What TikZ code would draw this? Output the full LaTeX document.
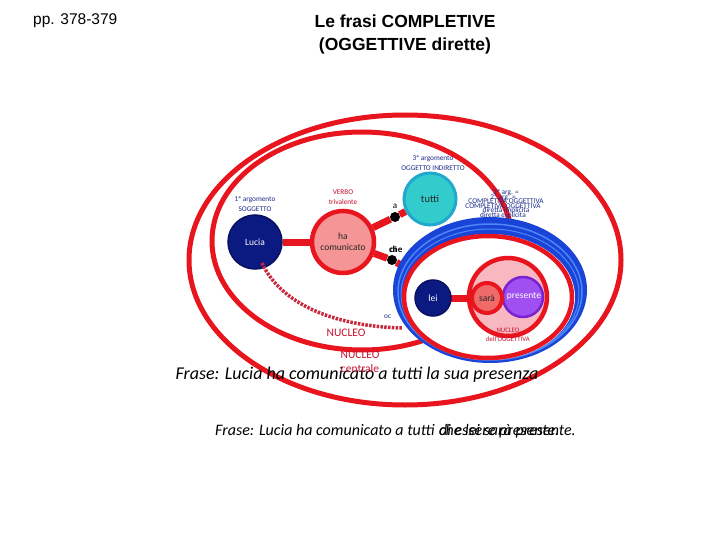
\documentclass[tikz,border=0pt]{standalone}
\usepackage{fontspec}
\usetikzlibrary{backgrounds}
\setmainfont{Carlito}
\newfontfamily\arialf{Liberation Sans}
\definecolor{nred}{HTML}{E8141E}
\definecolor{tred}{HTML}{C8102E}
\definecolor{dotred}{HTML}{C8283C}
\definecolor{navy}{HTML}{0B1A80}
\definecolor{navyb}{HTML}{0A1060}
\definecolor{salmon}{HTML}{F59595}
\definecolor{teal}{HTML}{33CCCC}
\definecolor{tealb}{HTML}{22A8CC}
\definecolor{pinkin}{HTML}{F8B8C2}
\definecolor{sarac}{HTML}{F06A6A}
\definecolor{purp}{HTML}{A050F0}
\definecolor{purpb}{HTML}{7A22D0}
\definecolor{bdark}{HTML}{1A44D8}
\definecolor{blight}{HTML}{4A88F8}
\definecolor{tblue}{HTML}{1A2A8A}
\tikzset{
  conn/.style={line width=7pt, nred},
  bigell/.style={line width=5pt, nred},
  ball/.style={circle, inner sep=0pt, align=center},
  dotnode/.style={circle, fill=black, minimum size=10pt, inner sep=0pt},
  lab/.style={font=\fontsize{7.3}{8}\selectfont, inner sep=0pt},
  bluelab/.style={lab, text=tblue},
  redlab/.style={lab, text=tred},
  frase/.style={font=\fontsize{16}{18}\selectfont\itshape, inner sep=0pt, text=black}
}
\begin{document}
\begin{tikzpicture}[x=1pt,y=-1pt]
\useasboundingbox (0,0) rectangle (720,540);
\begin{scope}[on background layer]
\fill[white] (0,0) rectangle (720,540);
\end{scope}

% title
\node[font=\arialf\fontsize{15.5}{17}\selectfont, anchor=west, inner sep=0pt] (pp) at (33,21) {pp. 378-379};
\node[font=\arialf\bfseries\fontsize{17.5}{23}\selectfont, align=center, inner sep=0pt] (title) at (405,34) {Le frasi COMPLETIVE\\(OGGETTIVE dirette)};

% big ellipses
\draw[bigell] (405,260) ellipse [x radius=216, y radius=145];
\draw[bigell] (362,241) ellipse [x radius=150, y radius=109];

% top-right overlapping texts
\node[bluelab, align=center] (argB) at (503,207) {2ª arg. =\\[1pt]COMPLETIVA OGGETTIVA\\[1pt]diretta esplicita};
\node[bluelab, align=center] (argA) at (506,202) {2ª arg. =\\[1pt]COMPLETIVA OGGETTIVA\\[1pt]diretta implicita};

% labels of the arguments
\node[bluelab, align=center] (l1) at (255,204) {1ª argomento\\[2pt]SOGGETTO};
\node[redlab, align=center] (lv) at (343,197) {VERBO\\[2pt]trivalente};
\node[bluelab, align=center] (l3) at (433,163) {3ª argomento\\[2pt]OGGETTO INDIRETTO};

% nodes
\node[ball, minimum size=54pt, fill=navy, draw=navyb, line width=1.5pt, text=white, font=\fontsize{9.5}{10}\selectfont] (lucia) at (255,242) {Lucia};
\node[ball, minimum size=62pt, fill=salmon, draw=nred, line width=4.5pt, text=black!85, font=\fontsize{9.5}{11}\selectfont] (ha) at (343,242) {ha\\comunicato};
\node[ball, minimum size=52pt, fill=teal, draw=tealb, line width=3pt, text=black!85, font=\fontsize{10.5}{11}\selectfont] (tutti) at (430,199) {tutti};
\node[dotnode] (adot) at (395,217) {};
\node[dotnode] (chedot) at (392,260) {};
\coordinate (cheend) at (414,272);

% connectors (behind the nodes)
\begin{scope}[on background layer]
\draw[conn] (lucia) -- (ha);
\draw[conn] (ha) -- (adot) -- (tutti);
\draw[conn] (ha) -- (chedot) -- (cheend);
\end{scope}

\node[lab, font=\fontsize{9}{9}\selectfont] (alab) at (395,206) {a};
\node[lab, font=\fontsize{9}{9}\selectfont\bfseries, anchor=west] (chelab) at (389,249) {che};
\node[lab, font=\fontsize{9}{9}\selectfont, anchor=west] (dilab) at (390,249) {di};

% dotted nucleus line from Lucia
\coordinate (dstart) at (262,263);
\coordinate (dend) at (402,328);
\draw[dotred, line width=3.5pt, dash pattern=on 2.5pt off 1.3pt] (dstart) .. controls (280,302) and (330,326) .. (dend);
\node[bluelab, anchor=west] (oc) at (384,317) {oc};

% blue ellipse (the objective clause)
\fill[bdark] (490,290) ellipse [x radius=97, y radius=73];
\draw[blight, line width=1.5pt] (490,292) ellipse [x radius=92, y radius=68];
\draw[blight, line width=1pt] (490,294) ellipse [x radius=89, y radius=65];
\fill[white] (489,297) ellipse [x radius=86, y radius=63];
\draw[nred, line width=4.5pt] (488,297) ellipse [x radius=84, y radius=61];

\node[ball, minimum size=78pt, fill=pinkin, draw=nred, line width=4.5pt] (nuc) at (508,297) {};
\draw[conn] (433,298) -- (487,298);
\node[ball, minimum size=36pt, fill=navy, draw=navyb, line width=1.5pt, text=white, font=\fontsize{9.5}{10}\selectfont] (lei) at (433,298) {lei};
\node[ball, minimum size=40pt, fill=purp, draw=purpb, line width=2.5pt] (pres) at (523,297) {};
\node[ball, minimum size=30pt, fill=sarac, draw=nred, line width=4pt, text=black!85, font=\fontsize{9.5}{10}\selectfont] (sara) at (487,298) {sarà};
\node[lab, text=white, font=\fontsize{9.5}{10}\selectfont] (preslab) at (524,296) {presente};

\node[redlab, align=center, font=\fontsize{6.8}{7.5}\selectfont] (nuclab) at (508,335) {NUCLEO\\[2pt]dell'OGGETTIVA};

% NUCLEO labels
\node[lab, text=tred, font=\fontsize{11.5}{12}\selectfont] (nucleo) at (346,333) {NUCLEO};
\node[frase, font=\fontsize{18}{20}\selectfont\itshape] (f1) at (357,375) {Frase: Lucia ha comunicato a tutti la sua presenza};
\node[lab, text=tred, font=\fontsize{11.5}{14}\selectfont, align=center] (nucc) at (360,362) {NUCLEO\\centrale};

% second sentence
\node[frase, anchor=base west] (f2) at (215,435) {Frase: Lucia ha comunicato a tutti};
\node[frase, anchor=base west] (f2a) at ([xshift=4pt]f2.base east) {che lei sarà presente.};
\node[frase, anchor=base west] (f2b) at ([xshift=4pt]f2.base east) {di essere presente.};
\end{tikzpicture}
\end{document}
